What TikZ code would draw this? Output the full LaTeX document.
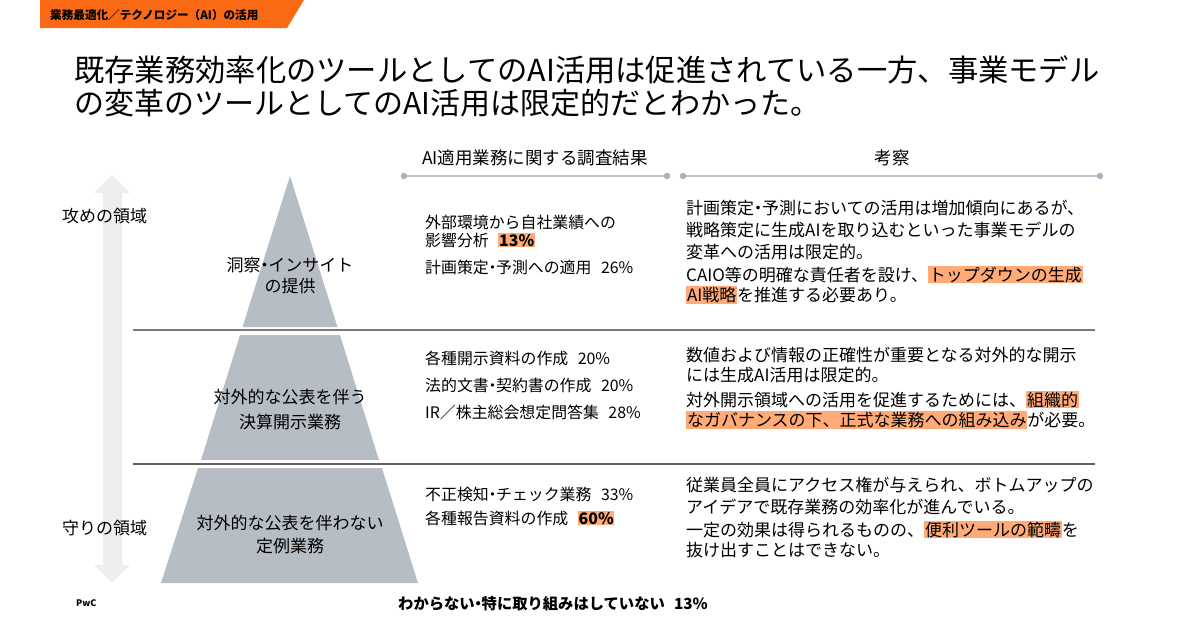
\documentclass[tikz,border=0pt]{standalone}
\usepackage{fontspec}
\setmainfont{Noto Sans CJK JP}
\usetikzlibrary{arrows.meta}
\definecolor{banner}{HTML}{FA6A14}
\definecolor{hlc}{HTML}{FFAA77}
\definecolor{pyr}{HTML}{B6BDC4}
\definecolor{arr}{HTML}{EEEEEE}
\definecolor{hline}{HTML}{BFC4CC}
\definecolor{hdot}{HTML}{AAB0BA}
\definecolor{sep}{HTML}{7A7A7A}
\newcommand\hlx[1]{{\setlength\fboxsep{0.8pt}\colorbox{hlc}{#1}}}
\newcommand\nd{\kern-0.27em・\kern-0.27em}
\tikzset{
  txt/.style={inner sep=0pt, anchor=base west, text=black},
  ctxt/.style={inner sep=0pt, anchor=base, text=black},
  colA/.style={txt, font=\fontsize{15.9}{18}\selectfont},
  colB/.style={txt, font=\fontsize{17}{20}\selectfont},
  pyrlab/.style={ctxt, font=\fontsize{17}{20}\selectfont},
  head/.style={ctxt, font=\fontsize{17.5}{20}\selectfont},
  side/.style={txt, font=\fontsize{17}{20}\selectfont},
  hdrline/.style={draw=hline, line width=1.3pt},
  hdrdot/.style={fill=hdot, draw=none},
  sepline/.style={draw=sep, line width=1.6pt},
  piece/.style={fill=pyr, draw=none}
}
\begin{document}
\begin{tikzpicture}[x=1pt,y=-1pt]
\useasboundingbox (0,0) rectangle (1200,630);
\fill[white] (0,0) rectangle (1200,630);

% banner
\fill[banner] (40,0) -- (304,0) -- (287,28) -- (40,28) -- cycle;
\node[txt, font=\fontsize{11.6}{13}\selectfont\bfseries] (ban) at (50,19.2) {業務最適化／テクノロジー（AI）の活用};

% title
\node[txt, font=\fontsize{30.3}{34}\selectfont] (t1) at (74,81.5) {既存業務効率化のツールとしてのAI活用は促進されている一方、事業モデル};
\node[txt, font=\fontsize{30}{34}\selectfont] (t2) at (74,114.5) {の変革のツールとしてのAI活用は限定的だとわかった。};

% side arrow
\fill[arr] (112,175) -- (130,193) -- (122,193) -- (122,565) -- (130,565) -- (112,583) -- (94,565) -- (103,565) -- (103,193) -- (94,193) -- cycle;
\node[side] (att) at (62,222) {攻めの領域};
\node[side] (def) at (62,534.5) {守りの領域};

% pyramid
\fill[piece] (290,176) -- (337.5,327) -- (242.5,327) -- cycle;
\fill[piece] (240,335) -- (340,335) -- (379,460) -- (201,460) -- cycle;
\fill[piece] (198,468) -- (382,468) -- (418,583) -- (161,583) -- cycle;

% separators
\draw[sepline] (133,330) -- (1095,330);
\draw[sepline, line width=1.4pt, draw=sep!80!black] (133,464) -- (1095,464);

\node[pyrlab] (p1a) at (290,271.5) {洞察\nd インサイト};
\node[pyrlab] (p1b) at (290,292.5) {の提供};
\node[pyrlab] (p2a) at (290,403.5) {対外的な公表を伴う};
\node[pyrlab] (p2b) at (290,428) {決算開示業務};
\node[pyrlab] (p3a) at (290,529.5) {対外的な公表を伴わない};
\node[pyrlab] (p3b) at (290,552) {定例業務};

% headers
\node[head] (h1) at (535,164.5) {AI適用業務に関する調査結果};
\node[head] (h2) at (892,164.5) {考察};
\coordinate (h1l) at (404,176);
\coordinate (h1r) at (667,176);
\coordinate (h2l) at (683,176);
\coordinate (h2r) at (1100,176);
\draw[hdrline] (h1l) -- (h1r);
\draw[hdrline] (h2l) -- (h2r);
\foreach \c in {h1l,h1r,h2l,h2r} \fill[hdrdot] (\c) circle (3.2pt);

% column 1
\node[colA] (a1) at (425,228) {外部環境から自社業績への};
\node[colA] (a2) at (425,246) {影響分析\hspace{0.6em}\hlx{\bfseries 13\%}};
\node[colA] (a3) at (425,273) {計画策定\nd 予測への適用\hspace{0.6em}26\%};
\node[colA] (a4) at (425,364) {各種開示資料の作成\hspace{0.6em}20\%};
\node[colA] (a5) at (425,391) {法的文書\nd 契約書の作成\hspace{0.6em}20\%};
\node[colA] (a6) at (425,418) {IR／株主総会想定問答集\hspace{0.6em}28\%};
\node[colA] (a7) at (425,500) {不正検知\nd チェック業務\hspace{0.6em}33\%};
\node[colA] (a8) at (425,524) {各種報告資料の作成\hspace{0.6em}\hlx{\bfseries 60\%}};
\node[txt, font=\fontsize{15.3}{18}\selectfont\bfseries] (a9) at (398,609) {わからない\nd 特に取り組みはしていない\hspace{0.6em}13\%};

% column 2
\node[colB] (b1) at (686,214.5) {計画策定\nd 予測においての活用は増加傾向にあるが、};
\node[colB] (b2) at (686,236) {戦略策定に生成AIを取り込むといった事業モデルの};
\node[colB] (b3) at (686,258) {変革への活用は限定的。};
\node[colB] (b4) at (686,281) {CAIO等の明確な責任者を設け、\hlx{トップダウンの生成}};
\node[colB] (b5) at (686,301.5) {\hlx{AI戦略}を推進する必要あり。};

\node[colB] (b6) at (686,361) {数値および情報の正確性が重要となる対外的な開示};
\node[colB] (b7) at (686,381.5) {には生成AI活用は限定的。};
\node[colB] (b8) at (686,406) {対外開示領域への活用を促進するためには、\hlx{組織的}};
\node[colB] (b9) at (686,426.5) {\hlx{なガバナンスの下、正式な業務への組み込み}が必要。};

\node[colB] (b10) at (686,491) {従業員全員にアクセス権が与えられ、ボトムアップの};
\node[colB] (b11) at (686,513) {アイデアで既存業務の効率化が進んでいる。};
\node[colB] (b12) at (686,536) {一定の効果は得られるものの、\hlx{便利ツールの範疇}を};
\node[colB] (b13) at (686,556.5) {抜け出すことはできない。};

% PwC
\node[txt, font=\fontsize{9}{11}\selectfont\bfseries] (pwc) at (76,606) {PwC};
\end{tikzpicture}
\end{document}
